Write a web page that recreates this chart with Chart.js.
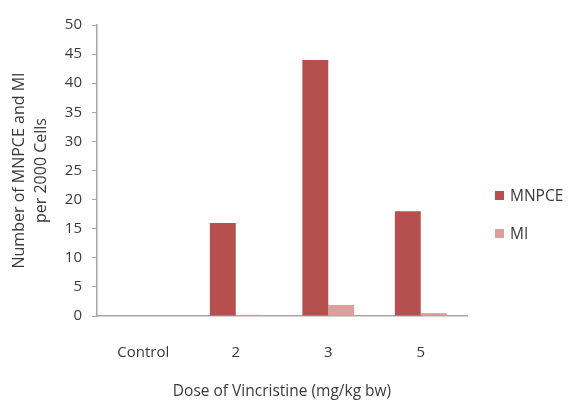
<!DOCTYPE html>
<html>
<head>
<meta charset="utf-8">
<script src="https://cdn.jsdelivr.net/npm/chart.js@4/dist/chart.umd.min.js"></script>
<style>
    body { margin: 0; background: #fff; }
    #wrap { width: 575px; height: 402px; }
</style>
</head>
<body>
<div id="wrap"><canvas id="myChart" width="575" height="402"></canvas></div>
<script>
// ============ DATA ============
const doses = ['Control', '2', '3', '5'];
const mnpce = [0, 16, 44, 18];
const mi = [0, 0.2, 1.9, 0.5];
const yTicks = [0, 5, 10, 15, 20, 25, 30, 35, 40, 45, 50];

const textColor = '#3a3a3a';
const axisColor = '#a6a6a6';
const fontFamily = "'Open Sans', 'Noto Sans', sans-serif";

// legend on the right, drawn by hand so it sits where the original does
const sideLegend = {
    id: 'sideLegend',
    afterDraw(chart) {
        const ctx = chart.ctx;
        ctx.save();
        ctx.font = '15.5px ' + fontFamily;
        ctx.textBaseline = 'middle';
        chart.data.datasets.forEach((ds, i) => {
            const y = 195.5 + i * 38;
            ctx.fillStyle = ds.backgroundColor;
            ctx.fillRect(495, y - 4.5, 9, 9);
            ctx.fillStyle = textColor;
            ctx.fillText(ds.label, 510, y + 1);
        });
        ctx.restore();
    }
};

const ctx = document.getElementById('myChart').getContext('2d');
const chart = new Chart(ctx, {
    type: 'bar',
    data: {
        labels: doses,
        datasets: [
            { label: 'MNPCE', data: mnpce, backgroundColor: '#b5504f' },
            { label: 'MI', data: mi, backgroundColor: '#dd9f9d' }
        ]
    },
    options: {
        responsive: false,
        animation: false,
        layout: { padding: { top: 25, right: 108, bottom: 1, left: 0 } },
        datasets: {
            bar: { categoryPercentage: 0.56, barPercentage: 1.0 }
        },
        plugins: {
            legend: { display: false },
            tooltip: { enabled: false }
        },
        scales: {
            x: {
                afterFit: (scale) => {
                    scale.height = 85;
                },
                grid: { display: false, drawTicks: false },
                border: { color: axisColor, width: 1.5 },
                ticks: {
                    color: textColor,
                    font: { family: fontFamily, size: 15 },
                    padding: 28
                },
                title: {
                    display: true,
                    text: 'Dose of Vincristine (mg/kg bw)',
                    color: textColor,
                    font: { family: fontFamily, size: 15.5 },
                    padding: { top: 0, bottom: 0 }
                }
            },
            y: {
                min: 0,
                max: 50,
                afterBuildTicks: (scale) => {
                    scale.ticks = yTicks.map(v => ({ value: v }));
                },
                afterFit: (scale) => {
                    scale.width = 97;
                },
                grid: {
                    drawOnChartArea: false,
                    tickLength: 5,
                    color: axisColor
                },
                border: { color: axisColor, width: 1.5 },
                ticks: {
                    color: textColor,
                    font: { family: fontFamily, size: 15 },
                    padding: 10
                },
                title: {
                    display: true,
                    text: ['Number of MNPCE and MI', 'per 2000 Cells'],
                    color: textColor,
                    font: { family: fontFamily, size: 16, lineHeight: 1.4 },
                    padding: { top: 8, bottom: 0 }
                }
            }
        }
    },
    plugins: [sideLegend]
});
</script>
</body>
</html>
